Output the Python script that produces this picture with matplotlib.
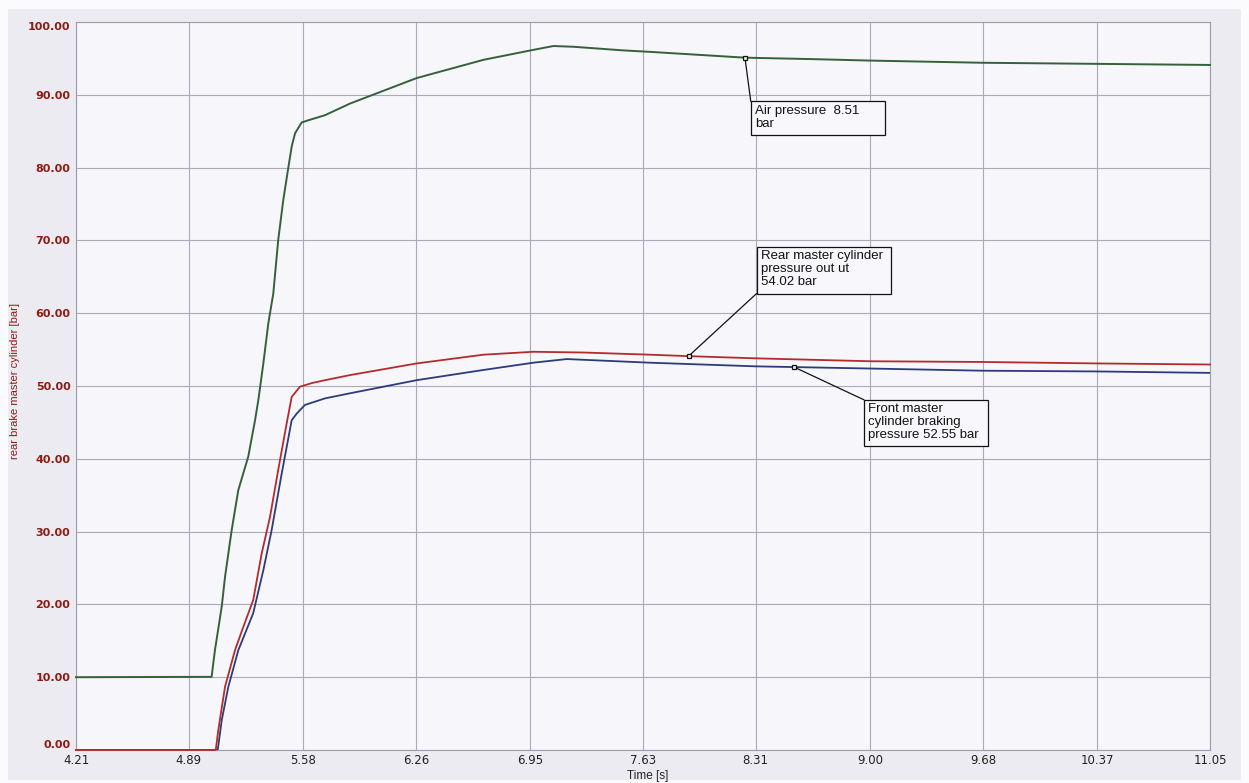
import matplotlib
matplotlib.use("Agg")
import matplotlib.pyplot as plt
from matplotlib.patches import Rectangle

plt.rcParams['font.family'] = ['Liberation Sans', 'DejaVu Sans']

# ---- data -------------------------------------------------------------
x_ticks = [4.21, 4.89, 5.58, 6.26, 6.95, 7.63, 8.31, 9.00, 9.68, 10.37, 11.05]
y_ticks = [0, 10, 20, 30, 40, 50, 60, 70, 80, 90, 100]

air_t = [4.21, 5.028, 5.048, 5.089, 5.109, 5.149, 5.189, 5.249, 5.290, 5.310,
         5.340, 5.370, 5.400, 5.430, 5.460, 5.490, 5.511, 5.531, 5.571, 5.611,
         5.712, 5.863, 6.265, 6.667, 6.952, 7.089, 7.209, 7.511, 7.672, 8.245,
         8.655, 9.00, 9.68, 10.37, 11.05]
air_v = [10.0, 10.05, 13.7, 19.7, 23.8, 30.2, 35.7, 40.3, 45.3, 48.1,
         53.1, 58.6, 62.7, 70.1, 75.5, 79.9, 82.9, 84.7, 86.2, 86.5,
         87.2, 88.8, 92.3, 94.8, 96.1, 96.7, 96.6, 96.1, 95.9, 95.1,
         94.9, 94.7, 94.4, 94.25, 94.1]

rear_t = [4.21, 5.053, 5.068, 5.109, 5.169, 5.219, 5.279, 5.330, 5.380, 5.430,
          5.481, 5.511, 5.561, 5.632, 5.712, 5.863, 6.265, 6.667, 6.968, 7.270,
          7.672, 7.905, 8.31, 9.00, 9.68, 10.37, 11.05]
rear_v = [0.0, 0.0, 2.7, 8.7, 13.7, 16.9, 20.6, 27.0, 32.0, 38.5,
          44.9, 48.5, 49.9, 50.4, 50.8, 51.5, 53.1, 54.3, 54.7, 54.6,
          54.3, 54.1, 53.8, 53.4, 53.3, 53.1, 52.95]

front_t = [4.21, 5.065, 5.089, 5.129, 5.189, 5.279, 5.340, 5.390, 5.451, 5.511,
           5.541, 5.591, 5.712, 5.863, 6.265, 6.667, 6.968, 7.170, 7.672, 8.31,
           8.541, 9.00, 9.68, 10.37, 11.05]
front_v = [0.0, 0.0, 4.1, 8.7, 13.7, 18.8, 24.7, 30.2, 38.0, 45.3,
           46.2, 47.4, 48.3, 49.0, 50.8, 52.2, 53.2, 53.7, 53.2, 52.7,
           52.6, 52.4, 52.1, 52.0, 51.8]

# cursor markers (time, value) and their labels
marker_t = [8.245, 7.905, 8.541]
marker_v = [95.1, 54.1, 52.6]
labels = ["Air pressure  8.51\nbar",
          "Rear master cylinder\npressure out ut\n54.02 bar",
          "Front master\ncylinder braking\npressure 52.55 bar"]

# ---- figure -----------------------------------------------------------
W, H = 1249, 783
fig = plt.figure(figsize=(W / 100, H / 100), dpi=100, facecolor='#FBFBFD')
fig.patches.append(Rectangle((8 / W, 3 / H), 1233 / W, 771 / H, transform=fig.transFigure,
                             facecolor='#ECEBF1', edgecolor='none', zorder=-10))
ax = fig.add_axes([76 / W, 1 - 750 / H, 1134 / W, 728 / H])
ax.set_facecolor('#F6F6FB')

ax.plot(air_t, air_v, color='#35613A', lw=1.4, clip_on=False, zorder=3)
ax.plot(rear_t, rear_v, color='#B32B2B', lw=1.3, clip_on=False, zorder=3)
ax.plot(front_t, front_v, color='#2C3C7A', lw=1.3, clip_on=False, zorder=2)

ax.set_xlim(x_ticks[0], x_ticks[-1])
ax.set_ylim(0, 100)
ax.set_xticks(x_ticks)
ax.set_xticklabels([f"{v:.2f}" for v in x_ticks], family='DejaVu Sans', fontsize=8.5,
                   color='#222222')
ax.set_yticks(y_ticks)
ax.set_yticklabels([f"{v:.2f}" for v in y_ticks], family='DejaVu Sans', fontsize=8,
                   fontweight='bold', color='#8E1B12')
ax.grid(True, color='#A9ABB9', lw=0.8)
ax.set_axisbelow(True)
ax.tick_params(length=0)
ax.tick_params(axis='y', pad=4)
ax.tick_params(axis='x', pad=3)
yl = ax.get_yticklabels()
yl[0].set_va('bottom')
yl[-1].set_va('top')
for s in ax.spines.values():
    s.set_color('#9C9CAA')
    s.set_linewidth(0.8)

fig.text(648 / W, 1 - 776 / H, 'Time [s]', fontsize=8.5, color='#222222',
         ha='center', va='center')
fig.text(15 / W, 1 - 381 / H, 'rear brake master cylinder [bar]', fontsize=8,
         color='#8E1B12', rotation=90, ha='center', va='center')

# ---- annotation boxes (layout, data coords) ---------------------------
boxes = [(8.28, 9.09, 84.5, 89.1),
         (8.315, 9.127, 62.7, 69.1),
         (8.963, 9.710, 41.7, 48.1)]
corners = [(8.28, 89.1), (8.315, 62.7), (8.963, 48.1)]

for (t0, t1, v0, v1), (ct, cv), mt, mv, lab in zip(boxes, corners, marker_t, marker_v, labels):
    ax.add_patch(Rectangle((t0, v0), t1 - t0, v1 - v0, facecolor='#F8F8FC',
                           edgecolor='#111111', lw=0.9, zorder=5))
    ax.annotate('', xy=(mt, mv), xytext=(ct, cv),
                arrowprops=dict(arrowstyle='-', color='#111111', lw=0.9,
                                shrinkA=0, shrinkB=0), zorder=4)
    ax.text(t0 + 0.025, v1 - 0.45, lab, ha='left', va='top', fontsize=9.5,
            color='#111111', linespacing=1.1, zorder=6)
    ax.plot([mt], [mv], marker='s', ms=3.5, mfc='#F0F0F0', mec='#111111',
            mew=0.9, ls='none', zorder=7)

fig.savefig('out.png', dpi=100, facecolor=fig.get_facecolor())
